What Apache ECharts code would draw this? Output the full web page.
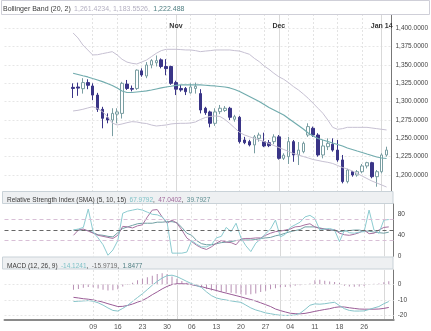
<!DOCTYPE html>
<html><head><meta charset="utf-8">
<script src="https://cdn.jsdelivr.net/npm/echarts@6/dist/echarts.min.js"></script>
<style>html,body{margin:0;padding:0;background:#fff}#c{width:431px;height:331px}</style>
</head><body><div id="c"></div>
<script>
// ---------- data ----------
const padBefore = ['2013-09-13','2013-09-16','2013-09-17','2013-09-18','2013-09-19','2013-09-20','2013-09-23','2013-09-24','2013-09-25','2013-09-26','2013-09-27','2013-09-30','2013-10-01','2013-10-02'];
const dates = ['2013-10-03','2013-10-04','2013-10-07','2013-10-08','2013-10-09','2013-10-10','2013-10-11','2013-10-14','2013-10-15','2013-10-16','2013-10-17','2013-10-18','2013-10-21','2013-10-22','2013-10-23','2013-10-24','2013-10-25','2013-10-28','2013-10-29','2013-10-30','2013-10-31',
'2013-11-01','2013-11-04','2013-11-05','2013-11-06','2013-11-07','2013-11-08','2013-11-11','2013-11-12','2013-11-13','2013-11-14','2013-11-15','2013-11-18','2013-11-19','2013-11-20','2013-11-21','2013-11-22','2013-11-25','2013-11-26','2013-11-27','2013-11-28','2013-11-29',
'2013-12-02','2013-12-03','2013-12-04','2013-12-05','2013-12-06','2013-12-09','2013-12-10','2013-12-11','2013-12-12','2013-12-13','2013-12-16','2013-12-17','2013-12-18','2013-12-19','2013-12-20','2013-12-23','2013-12-24','2013-12-26','2013-12-27','2013-12-30','2013-12-31',
'2014-01-02','2014-01-03'];
const padAfter = ['2014-01-06'];
const xTickDates = ['2013-10-09','2013-10-16','2013-10-23','2013-10-30','2013-11-06','2013-11-13','2013-11-20','2013-11-27','2013-12-04','2013-12-11','2013-12-18','2013-12-26'];
const monthDates = ['2013-11-01','2013-12-02','2014-01-02'];
const monthLabels = ['Nov','Dec','Jan 14'];

const opens  = [1319.5,1320,1317.7,1326,1321.4,1309,1289.6,1278,1275,1283,1284,1324,1318,1318,1342,1335,1350,1353,1357,1348,1348,1326,1318,1318,1312,1318,1311,1291,1286,1270.5,1286.4,1288,1291,1276,1278.7,1247.7,1245.5,1241,1250,1245.5,1244,1245.5,1252,1222.7,1225,1245.5,1227.3,1231.8,1254.5,1263.7,1254.5,1227.3,1238.6,1242,1234,1220.5,1191,1204.5,1200,1204.5,1212.3,1216.8,1197.7,1204.5,1227.3];
const closes = [1318,1318.5,1326,1322.3,1309,1289.6,1277.3,1275,1284,1286,1325,1318,1317,1343,1336.4,1350,1356,1356,1348,1345,1325,1317,1316,1313.6,1320,1321,1288.6,1285,1270.5,1286,1291,1291,1278.7,1279.5,1245.5,1244,1241,1252,1254.5,1239.6,1240,1252,1222.7,1227,1245.5,1227.3,1234,1243.2,1266,1254.5,1227.3,1239.6,1243.2,1234,1220.5,1191,1206.8,1200,1204.5,1212.3,1216.8,1197.7,1204.5,1227.3,1234];
const lows   = [1305,1308,1311,1317,1302,1286,1263.7,1270.5,1253,1270.5,1277,1316,1314,1316,1334,1332,1345.5,1348,1345.5,1336,1323,1309,1313.6,1309,1311,1311,1284,1282,1265,1267,1283,1286,1275,1272.7,1243,1242,1239,1229.6,1245.5,1238,1238,1242,1221,1220.5,1215,1218,1213.6,1229.6,1252,1252,1225,1222.7,1234,1231.8,1218,1188.6,1188.6,1197.7,1197.7,1202.3,1209,1195.5,1184,1202.3,1225];
const highs  = [1325,1326,1332,1330.5,1325,1312,1293,1284,1291,1291,1327,1329.6,1322,1344,1345.5,1354,1358,1363,1359,1358,1349,1328.6,1322.7,1320,1325,1326,1317,1293,1287.7,1291,1295.5,1294,1293,1282,1280.5,1252,1248,1254.5,1257.7,1257.7,1247.7,1255.5,1254.5,1229.6,1252,1247.7,1245,1245.5,1270.5,1266,1257,1247.7,1250,1250,1247.7,1227.3,1208.6,1205.5,1206.8,1215,1218,1218,1206.8,1229.6,1238.6];

const upperBand = [1393.7,1386.9,1377.3,1370.5,1363.7,1364,1365.5,1366.8,1368.2,1363.7,1357.8,1354,1352.3,1351.4,1354,1356.8,1361.4,1366,1369.6,1371.4,1371.4,1371.4,1371,1370.5,1370.5,1369.6,1368.2,1369,1369.6,1370.5,1370.5,1370.5,1370.5,1369.6,1369,1366.8,1364.6,1359.1,1354.6,1348.7,1344.1,1338.7,1334,1330.5,1325.9,1320.5,1316,1310.5,1304.6,1297.8,1291,1284.1,1275,1265,1262.3,1263.2,1265,1265,1265,1265,1265,1264.1,1263.2,1262.3,1261.4];
const middleBand = [1338.7,1337.1,1335.3,1333.7,1331.6,1329.6,1327.3,1324.8,1322.1,1318.7,1314.6,1312.5,1312.5,1313.2,1313.9,1314.6,1315.9,1317.3,1318.7,1320,1321,1322.1,1322.8,1322.8,1322.8,1322.8,1322.8,1322.4,1321.8,1321.4,1320.7,1320,1318.7,1316.6,1313.9,1310.5,1307.1,1303.7,1300.3,1296.2,1292.1,1288.7,1285.3,1281.8,1277.1,1272.3,1267.5,1262.7,1257.3,1253.2,1249.8,1247.7,1245.7,1243.6,1241.6,1239.6,1236.8,1234.8,1232.7,1230.7,1228.6,1226.6,1224.5,1223.2,1222.5];
const lowerBand = [1287.3,1288.2,1289.6,1291.4,1293.2,1290.7,1286.3,1279.8,1270.9,1268.2,1269.6,1271.3,1272.7,1272.3,1270.9,1270.2,1268.2,1266.8,1267.5,1268.2,1269.6,1270.2,1270.5,1270.5,1270.9,1272.3,1275.7,1278.4,1279.8,1280.5,1279.8,1275.7,1270.2,1264.1,1258,1254.6,1252.2,1249.8,1247.7,1245.7,1243,1240.2,1237.5,1234.8,1232.1,1229.3,1227.3,1225.2,1223.2,1221.1,1219.8,1218.4,1217.3,1215.7,1213,1210.2,1208.2,1205.5,1202,1198.6,1195.2,1191.8,1189.1,1186.4,1183.6];

const rsi5  = [50,52,55,90,46,35,22,2,12,30,82,86,88,90,88,84,80,79,75,65,6,6,6,8,30,23,18,18,22,35,38,55,47,63,35,20,9,25,33,43,52,69,37,42,55,60,65,75,78,72,50,52,53,50,28,50,45,44,46,47,88,50,44,69,70];
const rsi10 = [40,50,52,48,44,40,38,36,34,40,57,56,54,58,60,75,88,89,75,63,69,63,50,35,28,21,16,13,18,25,30,27,26,22,33,34,34,35,35,40,44,47,48,50,52,56,57,60,62,56,53,52,50,51,44,41,40,42,45,50,43,44,50,55,56];
const rsi15 = [50,50,50,49,45,41,40,38,37,45,53,56,59,62,63,63,63,65,65,66,66,64,55,44,40,30,24,22,22,24,26,27,28,30,31,31,31,32,34,35,36,39,41,44,47,49,51,56,56,56,54,52,50,49,47,48,49,50,50,48,48,46,45,44,46];
const rsiLevels = [70, 50, 30];

const macdLine = [-11.1,-10.9,-10.7,-10.5,-10.9,-11.9,-13.4,-15.2,-16.8,-17.2,-15.5,-13.5,-11,-8.5,-6.1,-3.4,-0.6,1.8,4,5.5,5.8,4.9,3.4,1.8,0.3,-0.8,-2.1,-4.9,-7.3,-8.8,-9.6,-10.1,-10.7,-11.2,-11.6,-13.4,-15.2,-16.5,-17.4,-18.4,-18.9,-19.5,-19.9,-20,-20,-19.7,-18.6,-16.2,-13.5,-12.6,-12.8,-12.5,-12,-11.6,-13.7,-15.7,-16.8,-17.2,-17.2,-17.1,-16.2,-15.2,-14.3,-12.5,-11.1];
const signalLine = [-8.4,-8.8,-9.3,-9.6,-10.1,-10.7,-11.5,-12.5,-13.4,-14.3,-14.2,-13.6,-12.7,-11.5,-10.4,-8.7,-6.7,-4.9,-3,-1.4,-0.2,0.3,0.3,0.2,-0.3,-1,-1.6,-2.4,-3.2,-4,-4.9,-5.7,-6.5,-7.3,-8.1,-9,-9.8,-10.8,-11.9,-13.1,-14.3,-15.9,-16.9,-17.8,-18.6,-18.9,-19,-18.7,-18.1,-17.4,-16.8,-16.2,-15.7,-14.9,-14.5,-14.6,-15.1,-15.5,-15.9,-16,-16,-16,-15.9,-15.5,-14.9];
const macdHist = [-3.5,-3,-2.2,-1.8,-2,-2.8,-3.6,-4,-3.8,-3.2,-1.5,-0.3,1,2.5,3.5,4.5,5.5,6.5,7,6.5,5,3.5,2,1,0.3,-0.8,-2,-3,-4,-4.5,-5,-5.2,-5.5,-6,-6.5,-6.8,-6.5,-6,-5,-4.2,-3.2,-2.5,-2,-1.8,-1.5,-1,-0.6,-0.3,0.5,2.5,2.8,2.3,1.8,1.5,0.8,-1,-1.5,-1.6,-1.4,-1.2,-0.5,0.3,0.5,1.2,1.85];
const macdGridValues = [0, -10, -20];

// ---------- build ----------
const categories = padBefore.concat(dates, padAfter);
const pad = arr => padBefore.map(() => '-').concat(arr, padAfter.map(() => '-'));
const candle = pad(dates.map((d, i) => [opens[i], closes[i], lows[i], highs[i]]));
const FONT = 'Liberation Sans, Arial, sans-serif';
const fmt4 = v => {
  const s = v.toFixed(4); const [a, b] = s.split('.');
  return a.replace(/\B(?=(\d{3})+(?!\d))/g, ',') + '.' + b;
};
const isTick = (i, v) => xTickDates.indexOf(v) >= 0;
const isMonth = (i, v) => monthDates.indexOf(v) >= 0;

const L = 4.5, R = 431 - 393.7;
const grids = [
  {left: L, right: R, top: 10, height: 183.33},     // main (1175..1425)
  {left: L, right: R, top: 203.8, height: 52.5},    // RSI
  {left: L, right: R, top: 268.65, height: 65.4},   // MACD values (-30..10)
  {left: L, right: R, top: 270, height: 50.5}       // MACD frame / date axis
];
const weekSplit = {show: true, interval: isTick, lineStyle: {color: '#e3e3e3', type: [2, 2], width: 1}};
const monthSplit = {show: true, interval: isMonth, lineStyle: {color: '#d9d9d9', width: 1}};
function weekAxis(g, labels) {
  return {type: 'category', gridIndex: g, data: categories, boundaryGap: false,
    axisLine: {show: labels, onZero: false, lineStyle: {color: '#8a8a8a', width: 2}}, axisTick: {show: false},
    axisLabel: {show: labels, interval: isTick, formatter: v => v.slice(8), color: '#555', fontSize: 7, fontFamily: FONT, margin: 4},
    splitLine: weekSplit};
}
function monthAxis(g, labels) {
  return {type: 'category', gridIndex: g, data: categories, boundaryGap: false, position: 'top',
    axisLine: {show: false}, axisTick: {show: false},
    axisLabel: {show: labels, inside: true, interval: isMonth, margin: 13,
      formatter: v => monthLabels[monthDates.indexOf(v)] || '', color: '#333', fontSize: 7, fontWeight: 'bold', fontFamily: FONT},
    splitLine: monthSplit};
}
const yLabel = {color: '#444', fontSize: 6.5, fontFamily: FONT, margin: 4};

const option = {
  animation: false,
  grid: grids,
  xAxis: [
    weekAxis(0, false), monthAxis(0, true),
    weekAxis(1, false), monthAxis(1, false),
    {type: 'category', gridIndex: 2, data: categories, boundaryGap: false, show: false},
    weekAxis(3, true), monthAxis(3, false)
  ],
  yAxis: [
    {type: 'value', gridIndex: 0, position: 'right', min: 1175, max: 1425, interval: 25,
     axisLine: {show: true, lineStyle: {color: '#777'}}, axisTick: {show: false},
     axisLabel: Object.assign({}, yLabel, {formatter: fmt4, showMinLabel: false, showMaxLabel: false}),
     splitLine: {show: true, lineStyle: {color: '#e6e6e6', type: [2, 2]}}},
    {type: 'value', gridIndex: 1, position: 'right', min: 0, max: 100, interval: 40,
     axisLine: {show: true, lineStyle: {color: '#777'}}, axisTick: {show: false},
     axisLabel: Object.assign({}, yLabel, {showMinLabel: true, showMaxLabel: false}), splitLine: {show: false}},
    {type: 'value', gridIndex: 2, position: 'right', min: -30, max: 10, interval: 10,
     axisLine: {show: false}, axisTick: {show: false},
     axisLabel: Object.assign({}, yLabel, {showMinLabel: false, showMaxLabel: false}),
     splitLine: {show: false}},
    {type: 'value', gridIndex: 3, position: 'right', min: 0, max: 1,
     axisLine: {show: true, lineStyle: {color: '#777'}}, axisTick: {show: false},
     axisLabel: {show: false}, splitLine: {show: false}}
  ],
  series: [
    {type: 'candlestick', xAxisIndex: 0, yAxisIndex: 0, data: candle, barWidth: 3,
     itemStyle: {color: '#ffffff', color0: '#3a3587', borderColor: '#7a9ea2', borderColor0: '#3a3587', borderWidth: 1}},
    {type: 'line', xAxisIndex: 0, yAxisIndex: 0, data: pad(upperBand), symbol: 'none', lineStyle: {color: '#c6c0d2', width: 1}},
    {type: 'line', xAxisIndex: 0, yAxisIndex: 0, data: pad(middleBand), symbol: 'none', lineStyle: {color: '#72acae', width: 1.2}},
    {type: 'line', xAxisIndex: 0, yAxisIndex: 0, data: pad(lowerBand), symbol: 'none', lineStyle: {color: '#c6c0d2', width: 1}},
    {type: 'line', xAxisIndex: 2, yAxisIndex: 1, data: pad(rsi15), symbol: 'none', lineStyle: {color: '#6f9fa3', width: 1},
     markLine: {silent: true, symbol: 'none', label: {show: false},
       data: rsiLevels.map((v, i) => ({yAxis: v, lineStyle: {color: i === 1 ? '#666' : '#d8bfd6', type: [4, 3], width: 1}}))}},
    {type: 'line', xAxisIndex: 2, yAxisIndex: 1, data: pad(rsi10), symbol: 'none', lineStyle: {color: '#a772a0', width: 1}},
    {type: 'line', xAxisIndex: 2, yAxisIndex: 1, data: pad(rsi5), symbol: 'none', lineStyle: {color: '#8ccbd0', width: 1}},
    {type: 'bar', xAxisIndex: 4, yAxisIndex: 2, data: pad(macdHist), barWidth: 1, itemStyle: {color: '#b890b4'},
     markLine: {silent: true, symbol: 'none', label: {show: false},
       data: macdGridValues.map(v => ({yAxis: v, lineStyle: {color: '#e6e6e6', type: [2, 2], width: 1}}))}},
    {type: 'line', xAxisIndex: 4, yAxisIndex: 2, data: pad(signalLine), symbol: 'none', lineStyle: {color: '#9a5c96', width: 1}},
    {type: 'line', xAxisIndex: 4, yAxisIndex: 2, data: pad(macdLine), symbol: 'none', lineStyle: {color: '#86c4c9', width: 1}}
  ],
  graphic: [
    {type: 'rect', z: 100, shape: {x: 0, y: 0, width: 431, height: 15}, style: {fill: '#fff'}},
    {type: 'rect', z: 101, shape: {x: 1.5, y: 0.5, width: 428, height: 14}, style: {fill: '#fff', stroke: '#cfcfd8', lineWidth: 1}},
    {type: 'text', z: 102, left: 3, top: 3, style: {
      text: '{a|Bollinger Band (20, 2)} {b|1,261.4234, 1,183.5526,} {c|1,222.488}',
      rich: {a: {fill: '#3a3a3a', fontSize: 7, fontFamily: FONT},
             b: {fill: '#b4b0c2', fontSize: 7, fontFamily: FONT},
             c: {fill: '#4f7e82', fontSize: 7, fontFamily: FONT}}}},
    {type: 'rect', z: 100, shape: {x: 2.5, y: 191.5, width: 390.5, height: 12}, style: {fill: '#eef0f2', stroke: '#c9d2d8', lineWidth: 1}},
    {type: 'text', z: 101, left: 7, top: 194.5, style: {
      text: '{a|Relative Strength Index (SMA) (5, 10, 15)} {b|67.9792}{a|,} {c|47.0402}{a|,} {d|39.7927}',
      rich: {a: {fill: '#3a3a3a', fontSize: 6.5, fontFamily: FONT},
             b: {fill: '#7fc2c7', fontSize: 6.5, fontFamily: FONT},
             c: {fill: '#a06a9c', fontSize: 6.5, fontFamily: FONT},
             d: {fill: '#5f8f93', fontSize: 6.5, fontFamily: FONT}}}},
    {type: 'rect', z: 100, shape: {x: 2.5, y: 257, width: 390.5, height: 12}, style: {fill: '#eef0f2', stroke: '#c9d2d8', lineWidth: 1}},
    {type: 'text', z: 101, left: 7, top: 260, style: {
      text: '{a|MACD (12, 26, 9)} {b|-14.1241}{a|,} {c|-15.9719}{a|,} {d|1.8477}',
      rich: {a: {fill: '#3a3a3a', fontSize: 6.5, fontFamily: FONT},
             b: {fill: '#7fc2c7', fontSize: 6.5, fontFamily: FONT},
             c: {fill: '#6a6a6a', fontSize: 6.5, fontFamily: FONT},
             d: {fill: '#4f7e82', fontSize: 6.5, fontFamily: FONT}}}}
  ]
};
echarts.init(document.getElementById('c'), null, {renderer: 'canvas'}).setOption(option);
</script></body></html>
